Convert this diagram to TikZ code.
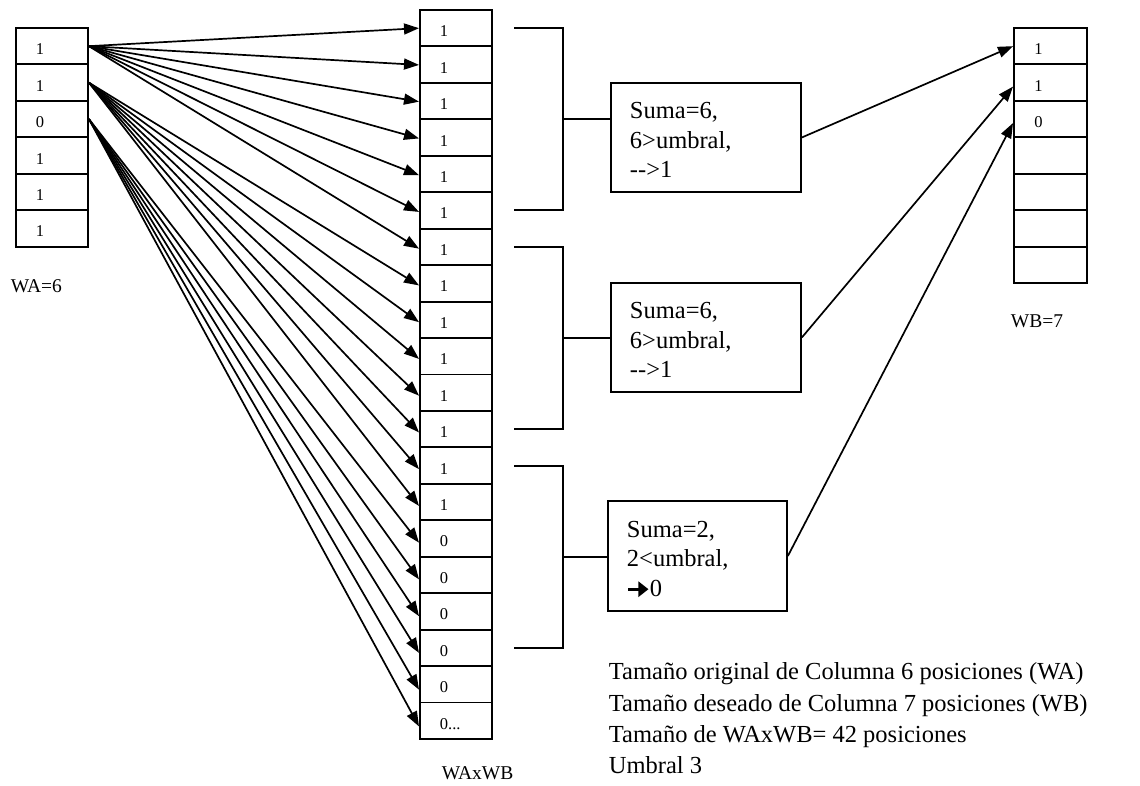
\documentclass[tikz,border=0pt]{standalone}
\usepackage{fontspec}
\setmainfont{Liberation Serif}
\usetikzlibrary{arrows.meta,calc}

\newcommand\cellfont{\fontsize{16.5}{18}\selectfont}
\newcommand\boxfont{\fontsize{24.5}{29.5}\selectfont}
\newcommand\notefont{\fontsize{24.5}{31.3}\selectfont}
\newcommand\lblfont{\fontsize{19.5}{22}\selectfont}

\begin{document}
\begin{tikzpicture}[x=1pt,y=-1pt,line width=1.8pt,
  cell/.style={draw,rectangle,anchor=north west,line width=1.9pt,
    minimum width=72pt,minimum height=36.45pt,text width=32pt,align=left,
    inner xsep=20pt,inner ysep=0pt,text height=17pt,text depth=0pt,font=\cellfont},
  fan/.style={-{Triangle[length=15pt,width=11pt]},line width=1.7pt},
  sumbox/.style={draw,rectangle,anchor=north west,line width=1.9pt,align=left,
    inner xsep=19pt,inner ysep=0pt,font=\boxfont},
  lbl/.style={anchor=base west,inner sep=0pt,font=\lblfont},
  brk/.style={line width=1.9pt}]

\useasboundingbox (0,0) rectangle (1140,786);

% column WA
\foreach \v [count=\i from 0] in {1,1,0,1,1,1}
  \node[cell] (a\i) at (15,27+36.45*\i) {\v};
\node[lbl] (wa) at (10,292) {WA=6};

% column WAxWB
\foreach \v [count=\i from 0] in {1,1,1,1,1,1,1,1,1,1,1,1,1,1,0,0,0,0,0}
  \node[cell] (m\i) at (419,9+36.45*\i) {\v};
\node[cell] (m19) at (419,9+36.45*19) {0...};
\node[lbl] (wab) at (441,779) {WAxWB};

% column WB
\foreach \v [count=\i from 0] in {1,1,0,{},{},{},{}}
  \node[cell,minimum width=73pt] (w\i) at (1013,27+36.45*\i) {\v};
\node[lbl] (wb) at (1010,327) {WB=7};

% fan-out from WA to WAxWB
\foreach \i in {0,...,6}
  \draw[fan] (a0.east) -- ([yshift={-\i*0.3pt}]m\i.west);
\foreach \i in {7,...,13}
  \draw[fan] (a1.east) -- ([yshift={-\i*0.3pt}]m\i.west);
\foreach \i in {14,...,19}
  \draw[fan] (a2.east) -- ([yshift={-\i*0.3pt}]m\i.west);

% sum boxes
\node[sumbox,text width=152pt,minimum width=190pt,minimum height=109pt] (s1)
  at (610,82) {\rule{0pt}{22pt}Suma=6,\\6>umbral,\\-{}-{}>1};
\node[sumbox,text width=152pt,minimum width=190pt,minimum height=109pt] (s2)
  at (610,282) {\rule{0pt}{22pt}Suma=6,\\6>umbral,\\-{}-{}>1};
\node[sumbox,text width=141pt,minimum width=179pt,minimum height=110pt] (s3)
  at (607,500) {\rule{0pt}{22pt}Suma=2,\\2<umbral,\\\tikz[baseline=0pt]{\draw[line width=3pt,
    -{Triangle[length=10pt,width=15pt]}] (0pt,7pt) -- (20pt,7pt);}0};

% brackets grouping six positions each
\coordinate (bl) at (514,0);
\coordinate (bv) at (563,0);
\foreach \f/\l/\s in {0/5/1,6/11/2,12/17/3}{
  \draw[brk] (m\f.center -| bl) -- (m\f.center -| bv) -- (m\l.center -| bv)
    -- (m\l.center -| bl);
  \coordinate (k\s) at ($(m\f.center -| bv)!0.5!(m\l.center -| bv)$);
  \draw[brk] (k\s) -- (k\s -| s\s.west);
}

% results into WB
\draw[fan] (s1.east) -- (w0.west);
\draw[fan] (s2.east) -- ([yshift=-4pt]w1.west);
\draw[fan] (s3.east) -- ([yshift=-4pt]w2.west);

% notes
\node[anchor=north west,inner sep=0pt,align=left,font=\notefont] (notes)
  at (608,662) {Tamaño original de Columna 6 posiciones (WA)\\
  Tamaño deseado de Columna 7 posiciones (WB)\\
  Tamaño de WAxWB= 42 posiciones\\
  Umbral 3};
\end{tikzpicture}
\end{document}
